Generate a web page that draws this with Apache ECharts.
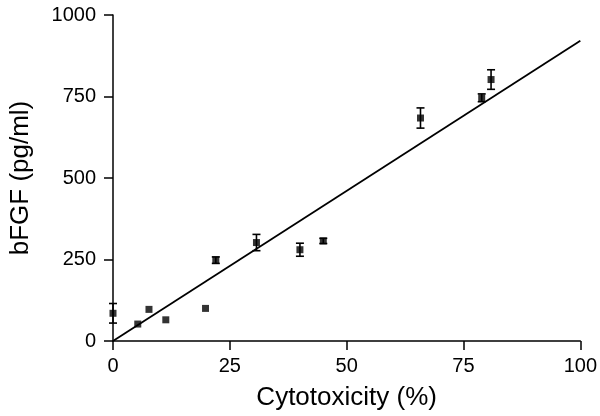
<!DOCTYPE html>
<html><head><meta charset="utf-8">
<script src="https://cdn.jsdelivr.net/npm/echarts@6/dist/echarts.min.js"></script>
<style>html,body{margin:0;padding:0;background:#fff}#c{width:600px;height:416px}</style>
</head><body><div id="c"></div>
<script>
var cytotoxicity = [0, 5.3, 7.7, 11.3, 19.8, 22, 30.7, 40, 45, 65.8, 78.9, 80.9];
var bfgf = [85, 52, 97, 65, 100, 248, 302, 280, 307, 684, 746, 802];
var errors = [30, 0, 0, 0, 0, 10, 25, 20, 8, 31, 12, 30];
var fitLine = [[0, 0], [100, 921]];
var xTicks = [0, 25, 50, 75, 100];
var yTicks = [0, 250, 500, 750, 1000];

var points = cytotoxicity.map(function (x, i) { return [x, bfgf[i]]; });
var errData = cytotoxicity.map(function (x, i) { return [x, bfgf[i] - errors[i], bfgf[i] + errors[i]]; });
var font = 'Liberation Sans, Arial, Helvetica, sans-serif';

var chart = echarts.init(document.getElementById('c'));
chart.setOption({
  animation: false,
  grid: { left: 111, right: 19, top: 15, bottom: 73 },
  xAxis: {
    type: 'value', min: xTicks[0], max: xTicks[xTicks.length - 1], interval: 25,
    name: 'Cytotoxicity (%)', nameLocation: 'middle', nameGap: 44,
    nameTextStyle: { fontSize: 26, color: '#000', fontFamily: font },
    axisLine: { lineStyle: { color: '#000', width: 1.5 } },
    axisTick: { length: 9, lineStyle: { color: '#000', width: 1.5 } },
    axisLabel: { fontSize: 20, color: '#000', fontFamily: font, margin: 15, formatter: function (v) { return String(v); } },
    splitLine: { show: false }
  },
  yAxis: {
    type: 'value', min: yTicks[0], max: yTicks[yTicks.length - 1], interval: 250,
    name: 'bFGF (pg/ml)', nameLocation: 'middle', nameGap: 79,
    nameTextStyle: { fontSize: 26, color: '#000', fontFamily: font },
    axisLine: { show: true, lineStyle: { color: '#000', width: 1.5 } },
    axisTick: { show: true, length: 9, lineStyle: { color: '#000', width: 1.5 } },
    axisLabel: { fontSize: 20, color: '#000', fontFamily: font, margin: 17, formatter: function (v) { return String(v); } },
    splitLine: { show: false }
  },
  series: [
    {
      type: 'line', data: fitLine, symbol: 'none',
      lineStyle: { color: '#000', width: 1.8 }, z: 2
    },
    {
      type: 'custom', z: 3,
      renderItem: function (params, api) {
        var x = api.value(0);
        var lo = api.coord([x, api.value(1)]);
        var hi = api.coord([x, api.value(2)]);
        if (Math.abs(hi[1] - lo[1]) < 1) return null;
        var w = 4;
        var st = { stroke: '#000', lineWidth: 1.6 };
        return {
          type: 'group', children: [
            { type: 'line', shape: { x1: lo[0], y1: lo[1], x2: hi[0], y2: hi[1] }, style: st },
            { type: 'line', shape: { x1: lo[0] - w, y1: lo[1], x2: lo[0] + w, y2: lo[1] }, style: st },
            { type: 'line', shape: { x1: hi[0] - w, y1: hi[1], x2: hi[0] + w, y2: hi[1] }, style: st }
          ]
        };
      },
      encode: { x: 0, y: [1, 2] },
      data: errData
    },
    {
      type: 'scatter', data: points, symbol: 'rect', symbolSize: 7,
      itemStyle: { color: '#000' }, z: 4
    }
  ]
});
</script></body></html>
